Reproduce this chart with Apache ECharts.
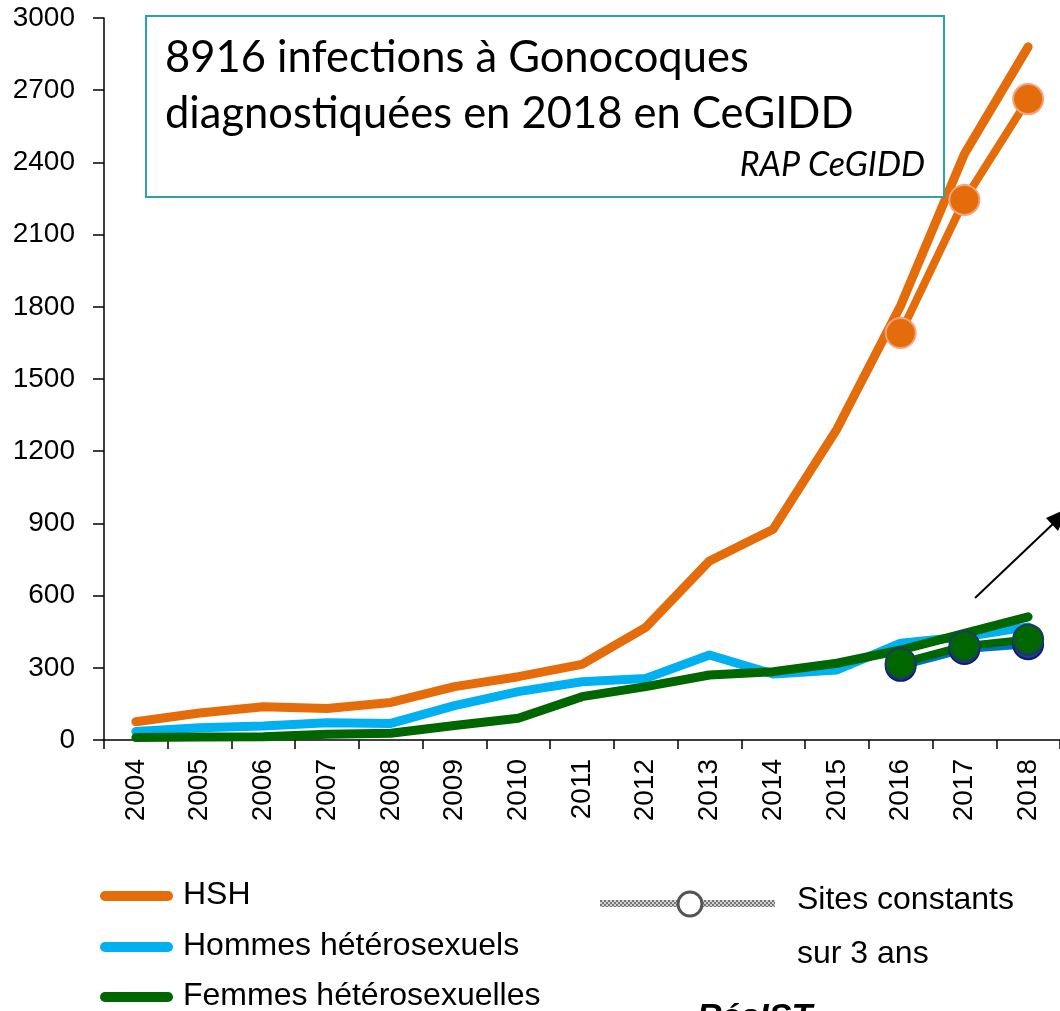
<!DOCTYPE html>
<html>
<head>
<meta charset="utf-8">
<script src="https://cdn.jsdelivr.net/npm/echarts@6.0.0/dist/echarts.min.js"></script>
<style>
  html, body { margin: 0; padding: 0; background: #fff; }
  #chart { width: 1060px; height: 1011px; }
</style>
</head>
<body>
<div id="chart"></div>
<script>
// années
var years = ['2004', '2005', '2006', '2007', '2008', '2009', '2010', '2011',
             '2012', '2013', '2014', '2015', '2016', '2017', '2018'];

// tous sites
var hsh = [76, 112, 138, 131, 156, 222, 263, 314, 468, 744, 876, 1292, 1805, 2435, 2880];
var hommesHetero = [35, 51, 58, 72, 69, 143, 201, 242, 256, 353, 274, 291, 402, 429, 470];
var femmesHetero = [10, 12, 14, 24, 28, 60, 90, 180, 222, 270, 284, 319, 374, 443, 512];

// sites constants sur 3 ans (2016-2018)
var hshConst = [null, null, null, null, null, null, null, null, null, null, null, null, 1691, 2244, 2663];
var hommesConst = [null, null, null, null, null, null, null, null, null, null, null, null, 308, 378, 398];
var femmesConst = [null, null, null, null, null, null, null, null, null, null, null, null, 319, 390, 418];

var yTicks = { min: 0, max: 3000, step: 300 };

var ORANGE = '#e46c0a';
var BLUE = '#00b0f0';
var GREEN = '#006600';

// petit motif en damier pour la légende "sites constants"
var pat = document.createElement('canvas');
pat.width = 4; pat.height = 4;
var pc = pat.getContext('2d');
pc.fillStyle = '#d0d0d0'; pc.fillRect(0, 0, 4, 4);
pc.fillStyle = '#777'; pc.fillRect(0, 0, 2, 2); pc.fillRect(2, 2, 2, 2);

var chart = echarts.init(document.getElementById('chart'));

function mainLine(name, data, color) {
  return {
    name: name, type: 'line', data: data, symbol: 'none',
    lineStyle: { color: color, width: 9, cap: 'round', join: 'round' },
    itemStyle: { color: color },
    z: 2
  };
}
function constLine(data, fill, border, lineColor) {
  return {
    type: 'line', data: data, symbol: 'circle', symbolSize: 30,
    lineStyle: { color: lineColor, width: 8, cap: 'round' },
    itemStyle: { color: fill, borderColor: border, borderWidth: 2 },
    z: 3
  };
}

var legendFont = '32px "Liberation Sans", Arial, sans-serif';
var boxFont = '43.5px Lato, "Open Sans", sans-serif';

chart.setOption({
  backgroundColor: '#fff',
  animation: false,
  grid: { left: 104, top: 18, width: 966, height: 722, containLabel: false },
  xAxis: {
    type: 'category', data: years, boundaryGap: true,
    axisLine: { lineStyle: { color: '#000', width: 1.5 } },
    axisTick: { show: true, length: 9, lineStyle: { color: '#000', width: 1.5 } },
    axisLabel: { rotate: 90, fontSize: 28, color: '#000', margin: 19,
                 fontFamily: '"Liberation Sans", Arial, sans-serif' },
    splitLine: { show: false }
  },
  yAxis: {
    type: 'value', min: yTicks.min, max: yTicks.max, interval: yTicks.step,
    axisLine: { show: true, lineStyle: { color: '#000', width: 1.5 } },
    axisTick: { show: true, length: 11, lineStyle: { color: '#000', width: 1.5 } },
    axisLabel: { fontSize: 28, color: '#000', margin: 29,
                 fontFamily: '"Liberation Sans", Arial, sans-serif',
                 formatter: function (v) { return String(v); } },
    splitLine: { show: false }
  },
  series: [
    mainLine('Hommes hétérosexuels', hommesHetero, BLUE),
    mainLine('Femmes hétérosexuelles', femmesHetero, GREEN),
    mainLine('HSH', hsh, ORANGE),
    constLine(hommesConst, '#1f3a93', '#0a1f6e', '#0070c0'),
    constLine(femmesConst, GREEN, '#1f3864', GREEN),
    constLine(hshConst, ORANGE, '#f7a07a', ORANGE)
  ],
  graphic: [
    // encadré
    { type: 'rect', shape: { x: 146, y: 16, width: 798, height: 181 },
      style: { fill: '#fff', stroke: '#2ea3a3', lineWidth: 2 }, z: 10 },
    { type: 'text', x: 165, y: 58, z: 11,
      style: { text: '8916 infections à Gonocoques', font: boxFont,
               fill: '#000', textVerticalAlign: 'middle' } },
    { type: 'text', x: 165, y: 114, z: 11,
      style: { text: 'diagnostiquées en 2018 en CeGIDD', font: boxFont,
               fill: '#000', textVerticalAlign: 'middle' } },
    { type: 'text', x: 925, y: 165, z: 11,
      style: { text: 'RAP CeGIDD', font: 'italic 34px Lato, "Open Sans", sans-serif',
               fill: '#000', textAlign: 'right', textVerticalAlign: 'middle' } },

    // flèche
    { type: 'line', shape: { x1: 975, y1: 598, x2: 1055, y2: 522 },
      style: { stroke: '#000', lineWidth: 2 }, z: 5 },
    { type: 'polygon', shape: { points: [[1068, 508], [1046, 518], [1058, 531]] },
      style: { fill: '#000' }, z: 5 },

    // légende
    { type: 'line', shape: { x1: 105, y1: 896, x2: 168, y2: 896 },
      style: { stroke: ORANGE, lineWidth: 10, lineCap: 'round' } },
    { type: 'text', x: 183, y: 895,
      style: { text: 'HSH', font: legendFont, fill: '#000', textVerticalAlign: 'middle' } },
    { type: 'line', shape: { x1: 105, y1: 947, x2: 168, y2: 947 },
      style: { stroke: BLUE, lineWidth: 10, lineCap: 'round' } },
    { type: 'text', x: 183, y: 946,
      style: { text: 'Hommes hétérosexuels', font: legendFont, fill: '#000', textVerticalAlign: 'middle' } },
    { type: 'line', shape: { x1: 105, y1: 997, x2: 168, y2: 997 },
      style: { stroke: GREEN, lineWidth: 10, lineCap: 'round' } },
    { type: 'text', x: 183, y: 996,
      style: { text: 'Femmes hétérosexuelles', font: legendFont, fill: '#000', textVerticalAlign: 'middle' } },

    { type: 'rect', shape: { x: 600, y: 900, width: 175, height: 7 },
      style: { fill: { image: pat, repeat: 'repeat' } } },
    { type: 'circle', shape: { cx: 690, cy: 904, r: 12 },
      style: { fill: '#fff', stroke: '#555', lineWidth: 3 } },
    { type: 'text', x: 797, y: 900,
      style: { text: 'Sites constants', font: legendFont, fill: '#000', textVerticalAlign: 'middle' } },
    { type: 'text', x: 797, y: 954,
      style: { text: 'sur 3 ans', font: legendFont, fill: '#000', textVerticalAlign: 'middle' } },

    { type: 'text', x: 697, y: 1001,
      style: { text: 'RésIST', font: 'bold italic 34px "Liberation Sans", Arial, sans-serif',
               fill: '#000', textVerticalAlign: 'top' } }
  ]
});
</script>
</body>
</html>
